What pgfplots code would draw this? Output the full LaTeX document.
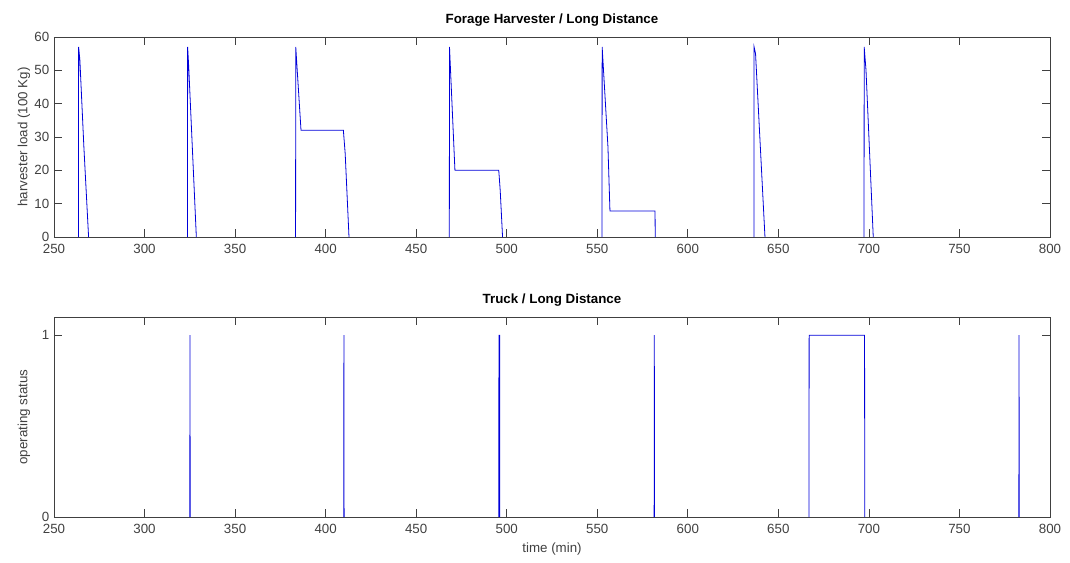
\documentclass[border=0pt]{standalone}
\usepackage{fontspec}
\setmainfont{Liberation Sans}
\usepackage{pgfplots}
\pgfplotsset{compat=1.18}

\definecolor{frame}{gray}{0.25}

\pgfplotsset{
  panel/.style={
    width=747pt, height=150pt, scale only axis,
    anchor=north west,
    xmin=250, xmax=800,
    xtick={250,300,...,800},
    axis line style={frame, line width=0.6pt},
    every tick/.style={frame, line width=0.5pt},
    major tick length=6pt,
    tick align=inside,
    tick label style={font=\fontsize{10}{12}\selectfont, text=black!75},
    /pgf/number format/assume math mode=true,
    xticklabel style={anchor=center, yshift=-9pt},
    every axis title shift=0pt,
    title style={font=\bfseries\fontsize{10}{12}\selectfont, at={(0.5,1)}, anchor=center, yshift=12.75pt},
    ylabel style={font=\fontsize{10}{12}\selectfont, text=black!75, at={(axis description cs:-0.0301,0.5)}, anchor=center},
    xlabel style={font=\fontsize{10}{12}\selectfont, text=black!75, at={(axis description cs:0.5,0)}, anchor=center, yshift=-24pt},
    unbounded coords=jump,
  },
}

\begin{document}
\begin{tikzpicture}
\useasboundingbox (-40.5pt,27.75pt) rectangle (762pt,-393.75pt);

% harvester load
\begin{axis}[panel, at={(0,0)},
  ymin=0, ymax=60, ytick={0,10,...,60},
  title={Forage Harvester / Long Distance},
  ylabel={harvester load (100 Kg)},
]
\addplot[blue!85!black, line width=0.6pt] coordinates {
  (263.5,0) (263.6,57) (264.3,53) (266.5,27) (269.1,0)
  (269.1,nan)
  (323.7,0) (323.8,57) (324.4,51) (328.6,0)
  (328.6,nan)
  (383.4,0) (383.5,57) (386.4,32) (409.8,32) (410.8,25) (412.9,0)
  (412.9,nan)
  (468.3,0) (468.4,57) (471.4,20) (495.6,20) (496.4,14) (497.7,0)
  (497.7,nan)
  (552.6,0) (552.7,57) (555.9,27) (557.0,7.8) (581.9,7.8) (582.0,0)
  (582.0,nan)
  (636.5,0) (636.6,57) (637.4,55) (642.6,0)
  (642.6,nan)
  (697.3,0) (697.4,57) (698.4,50) (702.4,0)
};
\end{axis}

% truck operating status
\begin{axis}[panel, at={(0,-210pt)},
  ymin=0, ymax=1.1, ytick={0,1},
  title={Truck / Long Distance},
  ylabel={operating status},
  xlabel={time (min)},
]
\addplot[blue!85!black, line width=0.6pt] coordinates {
  (325.0,0) (325.1,1) (325.2,0)
  (325.2,nan)
  (410.0,0) (410.1,1) (410.2,0)
  (410.2,nan)
  (495.6,0) (495.7,1) (496.1,1) (496.2,0)
  (496.2,nan)
  (581.4,0) (581.5,1) (581.6,0)
  (581.6,nan)
  (666.9,0) (667.0,1) (697.6,1) (697.7,0)
  (697.7,nan)
  (782.8,0) (782.9,1) (783.0,0)
};
\end{axis}
\end{tikzpicture}
\end{document}
